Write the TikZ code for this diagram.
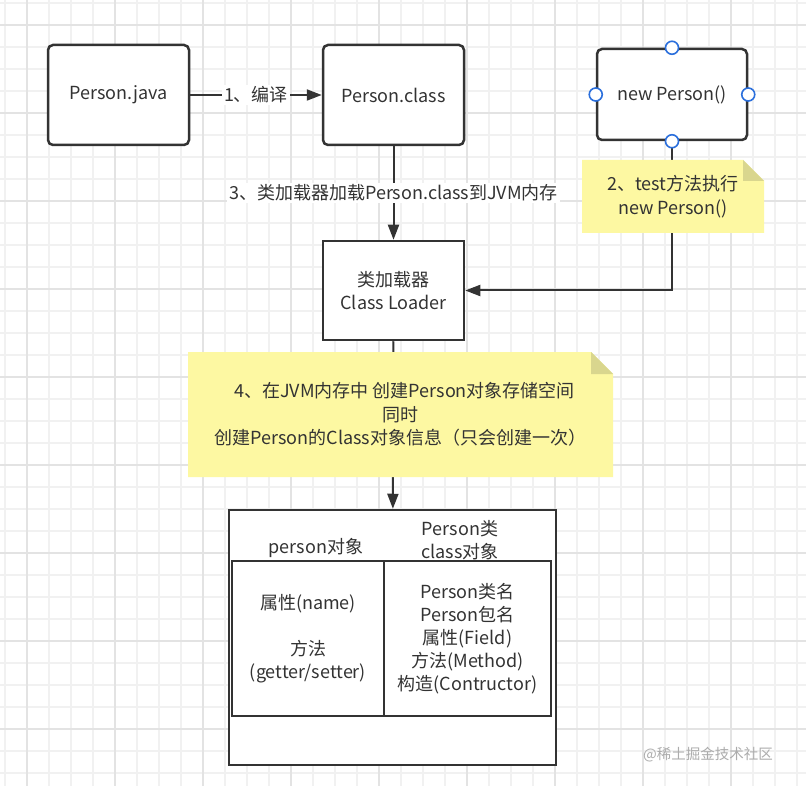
\documentclass[tikz,border=0pt]{standalone}
\usepackage{fontspec}
\setmainfont{Noto Sans CJK SC}
\usepackage{xcolor}
\usepackage{tikz}
\usetikzlibrary{arrows.meta,positioning,backgrounds}
\definecolor{ink}{HTML}{333333}
\definecolor{notey}{HTML}{FDF8A2}
\definecolor{notefold}{HTML}{D9D68E}
\definecolor{gridminor}{HTML}{F1F1F1}
\definecolor{gridmajor}{HTML}{E3E3E3}
\definecolor{pinblue}{HTML}{2B6FDC}
\pgfdeclarelayer{grid}
\pgfsetlayers{grid,background,main}
\tikzset{
  procbox/.style={
    rectangle, draw=ink, fill=white, line width=2.5pt, rounded corners=5pt,
    minimum width=141pt, minimum height=100pt,
    font=\fontsize{18}{23.5}\selectfont, align=center, text=ink
  },
  plainbox/.style={
    rectangle, draw=ink, fill=white, line width=2.5pt,
    font=\fontsize{18}{23.5}\selectfont, align=center, text=ink
  },
  notebox/.style={
    rectangle, font=\fontsize{18}{23.5}\selectfont, align=center, text=ink,
    path picture={
      \fill[notey] (path picture bounding box.south west)
        -- (path picture bounding box.north west)
        -- ([xshift=-#1]path picture bounding box.north east)
        -- ([yshift=-#1]path picture bounding box.north east)
        -- (path picture bounding box.south east) -- cycle;
      \fill[notefold] ([xshift=-#1]path picture bounding box.north east)
        -- ([xshift=-#1,yshift=-#1]path picture bounding box.north east)
        -- ([yshift=-#1]path picture bounding box.north east) -- cycle;
    }
  },
  notebox/.default=21pt,
  pin/.style={circle, draw=pinblue, fill=white, line width=1.6pt,
    minimum size=13pt, inner sep=0pt},
  flow/.style={-{Triangle[length=15pt,width=11pt]}, draw=ink, line width=2pt},
  flowlabel/.style={fill=white, inner sep=2pt, text=ink,
    font=\fontsize{18}{23.5}\selectfont},
  celltext/.style={font=\fontsize{18}{23}\selectfont, align=center, text=ink},
}

\begin{document}
\begin{tikzpicture}[x=1pt, y=-1pt]
    \useasboundingbox (0,0) rectangle (806,786);
    % grid paper
    \begin{pgfonlayer}{grid}
      \fill[white] (0,0) rectangle (806,786);
      \foreach \gx in {5,27,...,806} \draw[gridminor, line width=1.2pt] (\gx,0) -- (\gx,786);
      \foreach \gy in {3,25,...,786} \draw[gridminor, line width=1.2pt] (0,\gy) -- (806,\gy);
      \foreach \gx in {27,115,...,806} \draw[gridmajor, line width=1.5pt] (\gx,0) -- (\gx,786);
      \foreach \gy in {25,113,...,786} \draw[gridmajor, line width=1.5pt] (0,\gy) -- (806,\gy);
    \end{pgfonlayer}

    \node[procbox] (java) at (118.5,95) {Person.java};
    \node[procbox] (class) at (393.5,95) {Person.class};
    \node[procbox, minimum width=150pt, minimum height=91pt] (newp) at (672,94.5) {new Person()};
    \node[pin] (newp-n) at (newp.north) {};
    \node[pin] (newp-w) at (newp.west) {};
    \node[pin] (newp-e) at (newp.east) {};
    \node[plainbox, minimum width=141pt, minimum height=99pt] (loader) at (393.5,290.5) {类加载器\\Class Loader};

    % memory area
    \node[plainbox, minimum width=327pt, minimum height=255pt] (memory) at (392.5,637.5) {};
    \node[plainbox, minimum width=152pt, minimum height=155pt, celltext] (objcell) at (308,638.5)
      {属性(name)\\[23pt]方法\\(getter/setter)};
    \node[plainbox, minimum width=167pt, minimum height=155pt, celltext] (clscell) at (467.5,638.5)
      {Person类名\\Person包名\\属性(Field)\\方法(Method)\\构造(Contructor)};
    \node[celltext] (objhead) at (316,548) {person对象};
    \node[celltext, inner sep=0pt] (clshead) at (460,540) {Person类\\class对象};

    \begin{scope}[on background layer]
      \draw[flow] (java) -- (class) node[midway, flowlabel] {1、编译};
      \draw[flow] (class) -- (loader) node[midway, flowlabel] {3、类加载器加载Person.class到JVM内存};
      \draw[flow] (newp.south) |- (loader.east);
      \draw[flow] (loader) -- (memory);
    \end{scope}
    \node[pin] (newp-s) at (newp.south) {};

    \node[notebox, minimum width=182pt, minimum height=73pt] (note2) at (673,196.5) {2、test方法执行\\new Person()};
    \node[notebox=22pt, minimum width=425pt, minimum height=125pt] (note4) at (400.5,414.5)
      {\ \ 4、在JVM内存中 创建Person对象存储空间\\同时\\创建Person的Class对象信息（只会创建一次）};

    \node[text=gray!65, font=\fontsize{14.5}{16}\selectfont] (mark) at (708,755) {@稀土掘金技术社区};
\end{tikzpicture}
\end{document}
